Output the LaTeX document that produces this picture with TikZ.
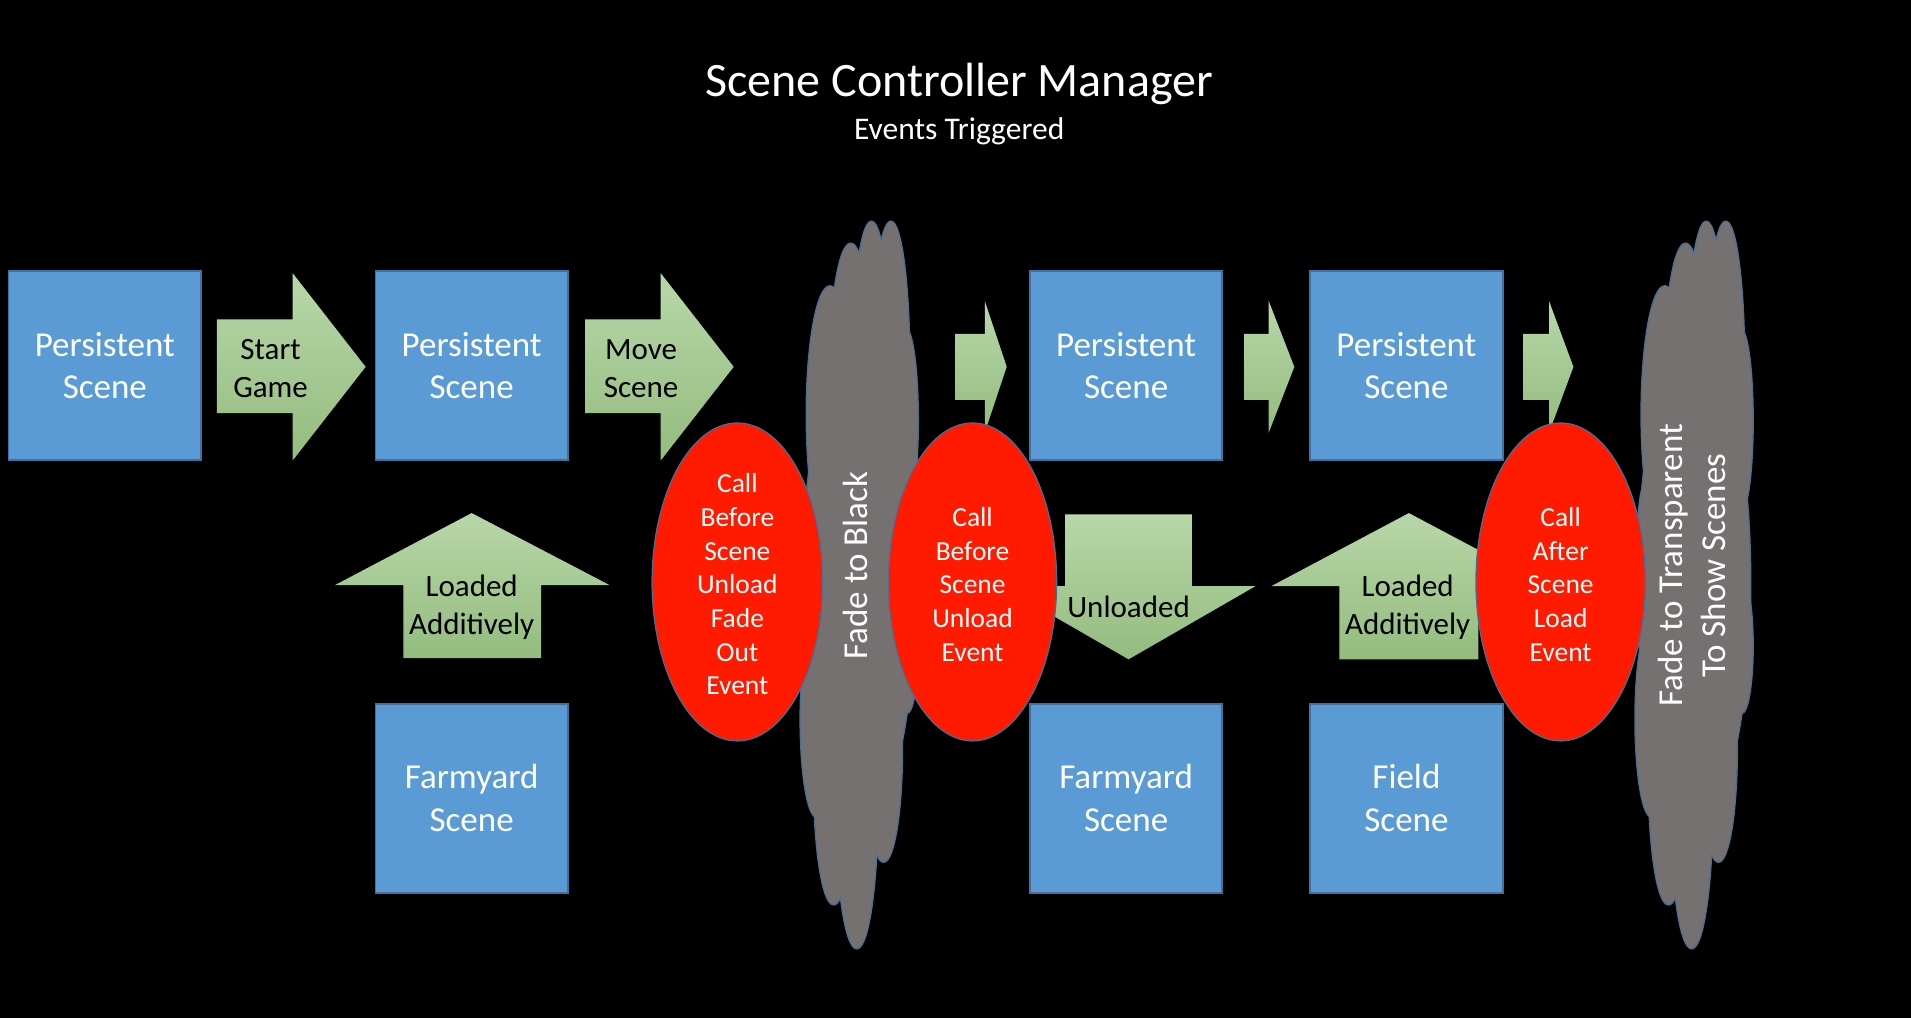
\documentclass[tikz,border=0pt]{standalone}
\usepackage{fontspec}
\setmainfont{Carlito}
\usetikzlibrary{shapes.geometric}
\definecolor{boxblue}{HTML}{5B9BD5}
\definecolor{boxedge}{HTML}{41719C}
\definecolor{evred}{HTML}{FF1A00}
\definecolor{cloudgray}{HTML}{767171}
\definecolor{cloudedge}{HTML}{4A6F95}
\definecolor{greentop}{HTML}{B8D7A9}
\definecolor{greenbot}{HTML}{93BC7E}
\begin{document}
\begin{tikzpicture}[x=1.21875pt,y=-1.21875pt,
  scenebox/.style={draw=boxedge, line width=1.8pt, fill=boxblue, minimum width=192.5pt, minimum height=189pt, inner sep=0pt, text=white, align=center, font=\fontsize{35}{42.7}\selectfont},
  evell/.style={ellipse, draw=boxedge, line width=1.2pt, fill=evred, inner sep=0pt, minimum height=318pt},
  evtext/.style={text=white, align=center, font=\fontsize{27.5}{33.7}\selectfont},
  garrow/.style={top color=greentop, bottom color=greenbot, draw=none},
  gtext/.style={text=black, align=center, font=\fontsize{31}{38}\selectfont},
  cloudtext/.style={text=white, align=center, rotate=90, font=\fontsize{35}{43}\selectfont},
]
% background / bounding box
\fill[black] (0,0) rectangle (1568,835);
\useasboundingbox (0,0) rectangle (1568,835);

% title
\node[text=white, font=\fontsize{48}{56}\selectfont] (title) at (787,69) {Scene Controller Manager};
\node[text=white, font=\fontsize{31.5}{36}\selectfont] (subtitle) at (787,108) {Events Triggered};

% scene boxes
\node[scenebox] (p1) at (86,300) {Persistent\\Scene};
\node[scenebox] (p2) at (387,300) {Persistent\\Scene};
\node[scenebox] (p3) at (924,300) {Persistent\\Scene};
\node[scenebox] (p4) at (1154,300) {Persistent\\Scene};
\node[scenebox] (f1) at (387,655) {Farmyard\\Scene};
\node[scenebox] (f2) at (924,655) {Farmyard\\Scene};
\node[scenebox] (f3) at (1154,655) {Field\\Scene};

% green block arrows
\fill[garrow] (178,262) -- (240,262) -- (240,224) -- (300,301) -- (240,378) -- (240,339) -- (178,339) -- cycle;
\fill[garrow] (480,262) -- (542,262) -- (542,224) -- (602,301) -- (542,378) -- (542,339) -- (480,339) -- cycle;
\fill[garrow] (784,274) -- (808,274) -- (808,247) -- (826,301) -- (808,355) -- (808,328) -- (784,328) -- cycle;
\fill[garrow] (1021,274) -- (1041,274) -- (1041,247) -- (1062,301) -- (1041,355) -- (1041,328) -- (1021,328) -- cycle;
\fill[garrow] (1250,274) -- (1271,274) -- (1271,247) -- (1291,301) -- (1271,355) -- (1271,328) -- (1250,328) -- cycle;
\fill[garrow] (331,540) -- (331,480) -- (275,480) -- (387,421) -- (500,480) -- (444,480) -- (444,540) -- cycle;
\fill[garrow] (1099,541) -- (1099,481) -- (1043,481) -- (1156,421) -- (1269,481) -- (1213,481) -- (1213,541) -- cycle;
\fill[garrow] (874,422) -- (978,422) -- (978,481) -- (1030,481) -- (926,541) -- (822,481) -- (874,481) -- cycle;

\node[gtext] (startgame) at (222,302.5) {Start\\Game};
\node[gtext] (movescene) at (526,302.5) {Move\\Scene};
\node[gtext] (loaded1) at (387,498) {Loaded\\Additively};
\node[gtext] (unloaded) at (926,498) {Unloaded};
\node[gtext] (loaded2) at (1155,498) {Loaded\\Additively};

% clouds
\foreach \sx in {0,685}{
  \begin{scope}[shift={(\sx,0)}]
    \foreach \cx/\cy/\rx/\ry in {705/478/46/200, 681/340/19/105, 698/305/17/105, 715/295/15/113, 731/297/15/115, 743/345/10/75, 670/590/13/80, 684/640/16/102, 703/660/17/118, 725/615/15/92, 744/530/9/55, 664/470/6/70}
      \draw[cloudedge, line width=2.6pt] (\cx,\cy) ellipse [x radius=\rx, y radius=\ry];
    \foreach \cx/\cy/\rx/\ry in {705/478/46/200, 681/340/19/105, 698/305/17/105, 715/295/15/113, 731/297/15/115, 743/345/10/75, 670/590/13/80, 684/640/16/102, 703/660/17/118, 725/615/15/92, 744/530/9/55, 664/470/6/70}
      \fill[cloudgray] (\cx,\cy) ellipse [x radius=\rx, y radius=\ry];
  \end{scope}
}
\node[cloudtext] (fadeblack) at (702,464) {Fade to Black};
\node[cloudtext] (fadetrans) at (1388,464) {Fade to Transparent\\To Show Scenes};

% event ellipses
\node[evell, minimum width=170.6pt] (e1) at (605,477.5) {};
\node[evell, minimum width=168.2pt] (e2) at (798,477.5) {};
\node[evell, minimum width=169.4pt] (e3) at (1280.5,477.5) {};
\node[evtext] (e1t) at (605,479.5) {Call\\Before\\Scene\\Unload\\Fade\\Out\\Event};
\node[evtext] (e2t) at (798,479.5) {Call\\Before\\Scene\\Unload\\Event};
\node[evtext] (e3t) at (1280.5,479.5) {Call\\After\\Scene\\Load\\Event};
\end{tikzpicture}
\end{document}
